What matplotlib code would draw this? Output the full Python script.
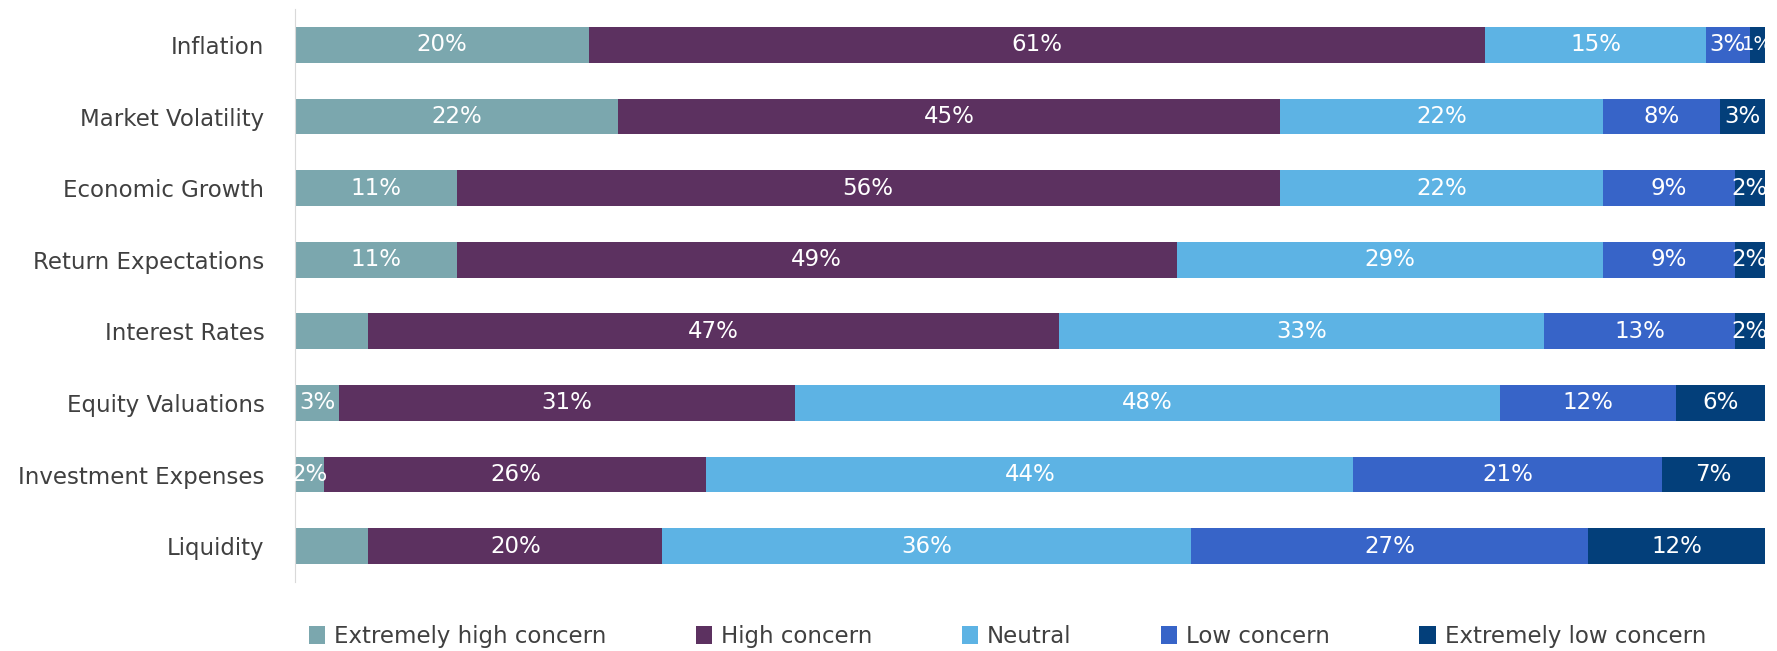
import matplotlib.pyplot as plt
import numpy as np

categories = ['Inflation', 'Market Volatility', 'Economic Growth', 'Return Expectations',
              'Interest Rates', 'Equity Valuations', 'Investment Expenses', 'Liquidity']
series_names = ['Extremely high concern', 'High concern', 'Neutral', 'Low concern',
                'Extremely low concern']
colors = ['#7BA7AE', '#5C3160', '#5DB3E4', '#3764C8', '#033F7A']

ext_high = [20, 22, 11, 11, 5, 3, 2, 5]
high = [61, 45, 56, 49, 47, 31, 26, 20]
neutral = [15, 22, 22, 29, 33, 48, 44, 36]
low = [3, 8, 9, 9, 13, 12, 21, 27]
ext_low = [1, 3, 2, 2, 2, 6, 7, 12]
# the two 5% slices have no label in the original
show_label = [[True, True, True, True, False, True, True, False]] + [[True] * 8] * 4

data = np.array([ext_high, high, neutral, low, ext_low], dtype=float)

fig = plt.figure(figsize=(17.77, 6.51), dpi=100)
ax = fig.add_axes([0.166, 0.106, 0.827, 0.88])

y = np.arange(len(categories))
left = np.zeros(len(categories))
for i, name in enumerate(series_names):
    bars = ax.barh(y, data[i], left=left, height=0.5, color=colors[i], label=name)
    for j, b in enumerate(bars):
        if show_label[i][j]:
            fs = 16.5 if data[i][j] > 1 else 14
            ax.text(left[j] + data[i][j] / 2, y[j], '%d%%' % data[i][j],
                    ha='center', va='center', color='white', fontsize=fs)
    left += data[i]

ax.set_xlim(0, 100)
ax.set_ylim(7.5, -0.5)
ax.set_yticks(y)
ax.set_yticklabels(categories, fontsize=16.5, color='#404040')
ax.set_xticks([])
ax.tick_params(axis='y', length=0, pad=22)
for s in ['top', 'right', 'bottom']:
    ax.spines[s].set_visible(False)
ax.spines['left'].set_color('#d9d9d9')

ax.legend(loc='center', bbox_to_anchor=(0.567, 0.022), ncol=5,
          frameon=False, fontsize=16.5, handlelength=0.7, handleheight=0.8,
          handletextpad=0.4, columnspacing=3.9, labelcolor='#404040',
          bbox_transform=fig.transFigure)

fig.savefig('out.png', dpi=100)
